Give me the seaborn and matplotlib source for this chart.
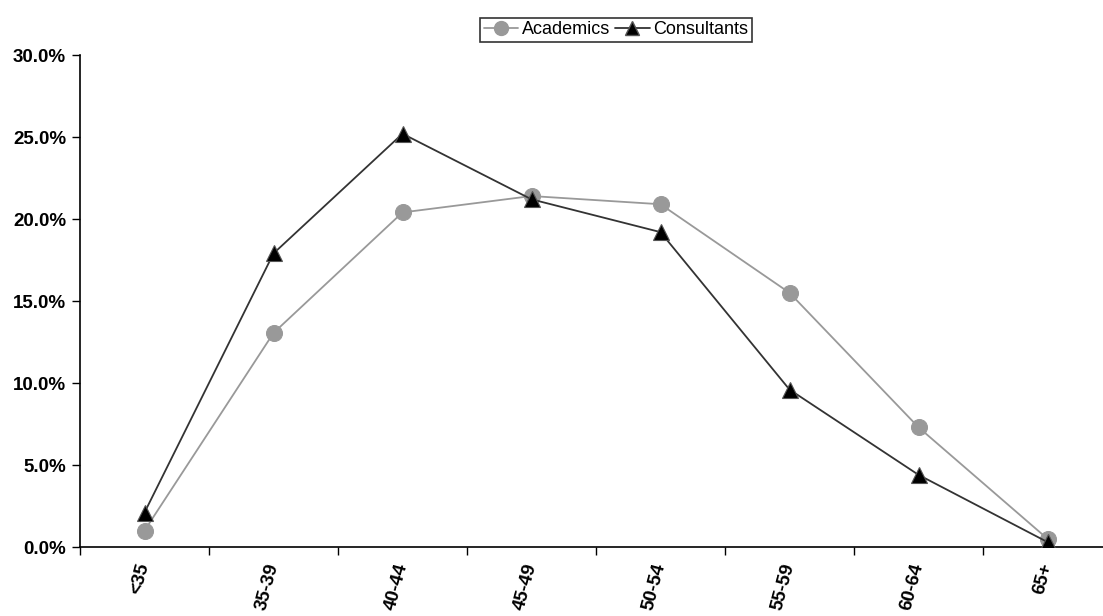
import matplotlib
matplotlib.use("Agg")
import matplotlib.pyplot as plt
import seaborn as sns
import pandas as pd
import numpy as np
from matplotlib.ticker import FuncFormatter, FixedLocator
from matplotlib.lines import Line2D

categories = ["<35", "35-39", "40-44", "45-49", "50-54", "55-59", "60-64", "65+"]
academics = [1.0, 13.05, 20.4, 21.4, 20.9, 15.5, 7.3, 0.5]
consultants = [2.1, 17.9, 25.2, 21.2, 19.2, 9.6, 4.4, 0.3]
series_names = ["Academics", "Consultants"]

df = pd.DataFrame({
    "pos": list(range(len(categories))) * 2,
    "value": academics + consultants,
    "series": [series_names[0]] * len(categories) + [series_names[1]] * len(categories),
})

sns.set_theme(style="white")
plt.rcParams["font.family"] = ["Liberation Sans", "DejaVu Sans"]
plt.rcParams["text.color"] = "black"
plt.rcParams["xtick.color"] = "black"
plt.rcParams["ytick.color"] = "black"

fig = plt.figure(figsize=(11.03, 6.16), dpi=100)
ax = fig.add_axes([80 / 1103, 69 / 616, 1032 / 1103, 492 / 616])

palette = {"Academics": "#999999", "Consultants": "#333333"}
markers = {"Academics": "o", "Consultants": "^"}
sns.lineplot(data=df, x="pos", y="value", hue="series", style="series",
             palette=palette, markers=markers, dashes=False, sort=False,
             markersize=11.5, linewidth=1.3, ax=ax, legend=False)

for ln in ax.get_lines():
    if ln.get_marker() == "o":
        ln.set_markerfacecolor("#999999")
        ln.set_markeredgecolor("#999999")
    elif ln.get_marker() == "^":
        ln.set_markerfacecolor("black")
        ln.set_markeredgecolor("#555555")
        ln.set_markeredgewidth(0.8)
        ln.set_zorder(4)

ax.set_xlim(-0.5, len(categories) - 0.5)
ax.set_ylim(0, 30)
ax.yaxis.set_major_locator(FixedLocator([0, 5, 10, 15, 20, 25, 30]))
ax.yaxis.set_major_formatter(FuncFormatter(lambda v, p: f"{v:.1f}%"))
ax.set_xticks(range(len(categories)))
ax.set_xticklabels(categories, rotation=75, ha="right", va="center",
                   rotation_mode="anchor", fontweight="bold", fontsize=13.5, color="black")
ax.set_xticks(np.arange(-0.5, len(categories), 1.0), minor=True)
ax.tick_params(axis="x", which="major", length=0, pad=12, labelcolor="black")
ax.tick_params(axis="x", which="minor", length=6, width=1, color="black", direction="out")
ax.tick_params(axis="y", which="major", length=6, width=1, color="black", direction="out",
               labelsize=13.5, pad=4, labelcolor="black")
for lbl in ax.get_yticklabels():
    lbl.set_fontweight("bold")
ax.xaxis.set_ticks_position("bottom")
ax.yaxis.set_ticks_position("left")
ax.set_xlabel("")
ax.set_ylabel("")
for s in ["top", "right"]:
    ax.spines[s].set_visible(False)
for s in ["left", "bottom"]:
    ax.spines[s].set_color("black")
    ax.spines[s].set_linewidth(1.2)
ax.grid(False)

handles = [
    Line2D([], [], color="#999999", marker="o", markersize=10, markerfacecolor="#999999",
           markeredgecolor="#999999", linewidth=1.3),
    Line2D([], [], color="#333333", marker="^", markersize=10, markerfacecolor="black",
           markeredgecolor="#555555", linewidth=1.3),
]
leg = fig.legend(handles, series_names, loc="center", bbox_to_anchor=(616 / 1103, 1 - 30 / 616),
                 ncol=2, frameon=True, fancybox=False, fontsize=13, handlelength=1.9,
                 handletextpad=0.2, columnspacing=0.3, borderpad=0.2, borderaxespad=0,
                 labelcolor="black")
leg.get_frame().set_edgecolor("black")
leg.get_frame().set_linewidth(1.2)

fig.savefig("out.png", dpi=100)
